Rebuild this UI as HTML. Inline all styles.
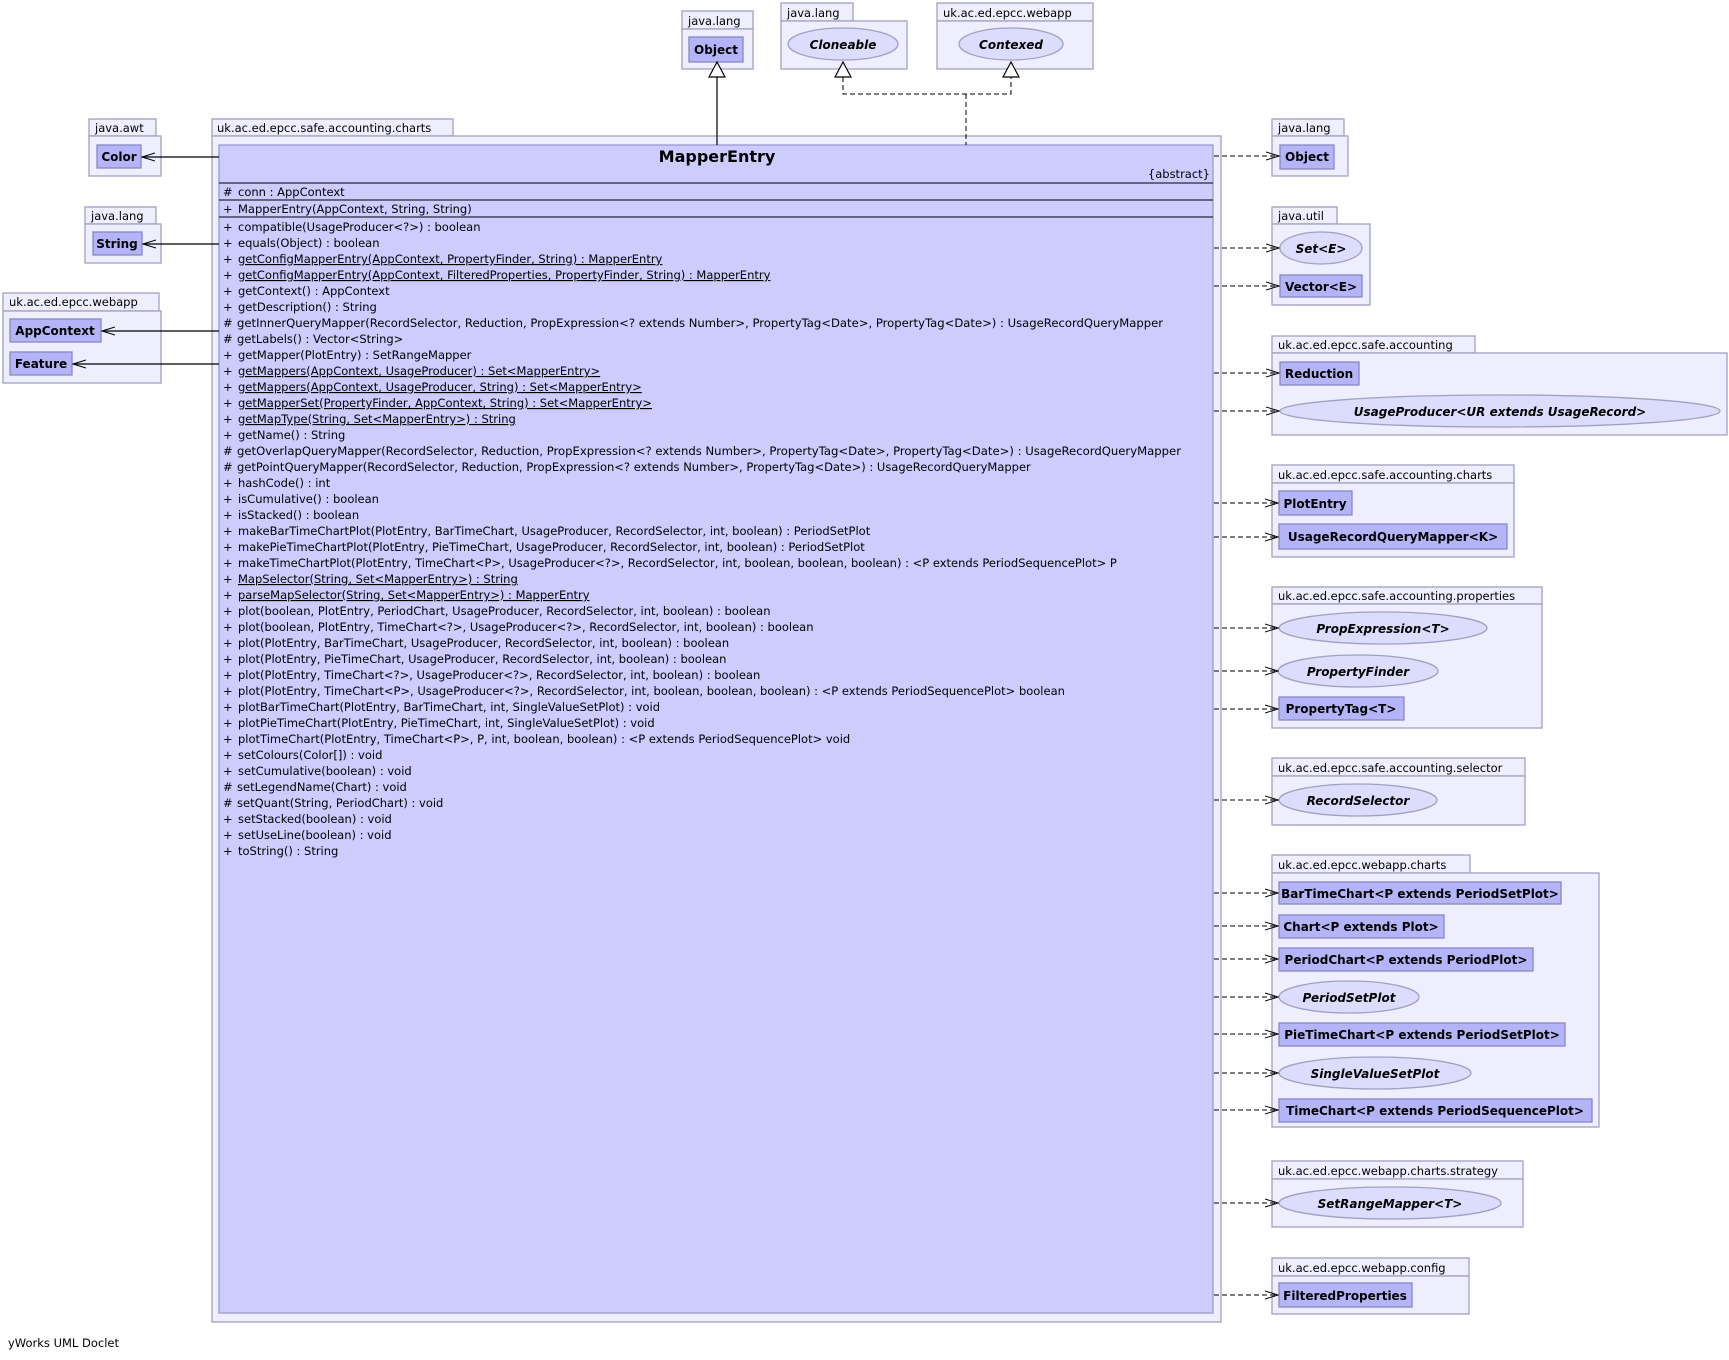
<!DOCTYPE html>
<html><head><meta charset="utf-8"><style>
html,body{margin:0;padding:0;background:#fff;}
svg{display:block;}
.pk{fill:#eeeeff;stroke:#a0a0c0;stroke-width:1.3;}
.cl{fill:#b4b4f8;stroke:#8888c0;stroke-width:1.3;}
.el{fill:#dcdcfc;stroke:#a0a0c0;stroke-width:1.3;}
.pt{font-family:"DejaVu Sans",sans-serif;font-size:11.5px;fill:#000;}
.bn{font-family:"DejaVu Sans",sans-serif;font-size:12px;font-weight:bold;fill:#000;}
.it{font-family:"DejaVu Sans",sans-serif;font-size:12px;font-weight:bold;font-style:italic;fill:#000;}
.m{font-family:"DejaVu Sans",sans-serif;font-size:11.5px;fill:#000;}
.u{text-decoration:underline;}
.dep{stroke:#000;stroke-width:1;stroke-dasharray:5,3;fill:none;}
.sol{stroke:#000;stroke-width:1.2;fill:none;}
</style></head><body>
<svg width="1729" height="1360" viewBox="0 0 1729 1360" xmlns="http://www.w3.org/2000/svg">
<defs>
<marker id="oa" markerWidth="14" markerHeight="10" refX="13" refY="5" orient="auto" markerUnits="userSpaceOnUse">
<path d="M0,1 L13,5 L0,9" fill="none" stroke="#000" stroke-width="1"/></marker>
</defs>

<rect class="pk" x="212" y="119" width="241" height="17"/>
<text class="pt" x="217" y="132">uk.ac.ed.epcc.safe.accounting.charts</text>
<rect class="pk" x="212" y="136" width="1009" height="1186"/>
<rect x="219" y="145" width="994" height="1168" fill="#ccccff" stroke="#9999cc" stroke-width="1.3"/>
<text x="717" y="162" text-anchor="middle" style="font-family:'DejaVu Sans',sans-serif;font-size:16px;font-weight:600;fill:#000">MapperEntry</text>
<text class="m" x="1210" y="178" text-anchor="end">{abstract}</text>
<line x1="219" y1="183" x2="1213" y2="183" stroke="#000"/>
<line x1="219" y1="200" x2="1213" y2="200" stroke="#000"/>
<line x1="219" y1="217" x2="1213" y2="217" stroke="#000"/>
<text class="m" x="223" y="196">#</text><text class="m" x="238" y="196">conn : AppContext</text>
<text class="m" x="223" y="213">+</text><text class="m" x="238" y="213">MapperEntry(AppContext, String, String)</text>

<g class="m">
<text x="223" y="231">+</text><text x="238" y="231">compatible(UsageProducer&lt;?&gt;) : boolean</text>
<text x="223" y="247">+</text><text x="238" y="247">equals(Object) : boolean</text>
<text x="223" y="263">+</text><text x="238" y="263" class="u">getConfigMapperEntry(AppContext, PropertyFinder, String) : MapperEntry</text>
<text x="223" y="279">+</text><text x="238" y="279" class="u">getConfigMapperEntry(AppContext, FilteredProperties, PropertyFinder, String) : MapperEntry</text>
<text x="223" y="295">+</text><text x="238" y="295">getContext() : AppContext</text>
<text x="223" y="311">+</text><text x="238" y="311">getDescription() : String</text>
<text x="223" y="327">#</text><text x="237" y="327" textLength="926" lengthAdjust="spacingAndGlyphs">getInnerQueryMapper(RecordSelector, Reduction, PropExpression&lt;? extends Number&gt;, PropertyTag&lt;Date&gt;, PropertyTag&lt;Date&gt;) : UsageRecordQueryMapper</text>
<text x="223" y="343">#</text><text x="237" y="343">getLabels() : Vector&lt;String&gt;</text>
<text x="223" y="359">+</text><text x="238" y="359">getMapper(PlotEntry) : SetRangeMapper</text>
<text x="223" y="375">+</text><text x="238" y="375" class="u">getMappers(AppContext, UsageProducer) : Set&lt;MapperEntry&gt;</text>
<text x="223" y="391">+</text><text x="238" y="391" class="u">getMappers(AppContext, UsageProducer, String) : Set&lt;MapperEntry&gt;</text>
<text x="223" y="407">+</text><text x="238" y="407" class="u">getMapperSet(PropertyFinder, AppContext, String) : Set&lt;MapperEntry&gt;</text>
<text x="223" y="423">+</text><text x="238" y="423" class="u">getMapType(String, Set&lt;MapperEntry&gt;) : String</text>
<text x="223" y="439">+</text><text x="238" y="439">getName() : String</text>
<text x="223" y="455">#</text><text x="237" y="455" textLength="944" lengthAdjust="spacingAndGlyphs">getOverlapQueryMapper(RecordSelector, Reduction, PropExpression&lt;? extends Number&gt;, PropertyTag&lt;Date&gt;, PropertyTag&lt;Date&gt;) : UsageRecordQueryMapper</text>
<text x="223" y="471">#</text><text x="237" y="471">getPointQueryMapper(RecordSelector, Reduction, PropExpression&lt;? extends Number&gt;, PropertyTag&lt;Date&gt;) : UsageRecordQueryMapper</text>
<text x="223" y="487">+</text><text x="238" y="487">hashCode() : int</text>
<text x="223" y="503">+</text><text x="238" y="503">isCumulative() : boolean</text>
<text x="223" y="519">+</text><text x="238" y="519">isStacked() : boolean</text>
<text x="223" y="535">+</text><text x="238" y="535">makeBarTimeChartPlot(PlotEntry, BarTimeChart, UsageProducer, RecordSelector, int, boolean) : PeriodSetPlot</text>
<text x="223" y="551">+</text><text x="238" y="551">makePieTimeChartPlot(PlotEntry, PieTimeChart, UsageProducer, RecordSelector, int, boolean) : PeriodSetPlot</text>
<text x="223" y="567">+</text><text x="238" y="567">makeTimeChartPlot(PlotEntry, TimeChart&lt;P&gt;, UsageProducer&lt;?&gt;, RecordSelector, int, boolean, boolean, boolean) :  &lt;P extends PeriodSequencePlot&gt; P</text>
<text x="223" y="583">+</text><text x="238" y="583" class="u">MapSelector(String, Set&lt;MapperEntry&gt;) : String</text>
<text x="223" y="599">+</text><text x="238" y="599" class="u">parseMapSelector(String, Set&lt;MapperEntry&gt;) : MapperEntry</text>
<text x="223" y="615">+</text><text x="238" y="615">plot(boolean, PlotEntry, PeriodChart, UsageProducer, RecordSelector, int, boolean) : boolean</text>
<text x="223" y="631">+</text><text x="238" y="631">plot(boolean, PlotEntry, TimeChart&lt;?&gt;, UsageProducer&lt;?&gt;, RecordSelector, int, boolean) : boolean</text>
<text x="223" y="647">+</text><text x="238" y="647">plot(PlotEntry, BarTimeChart, UsageProducer, RecordSelector, int, boolean) : boolean</text>
<text x="223" y="663">+</text><text x="238" y="663">plot(PlotEntry, PieTimeChart, UsageProducer, RecordSelector, int, boolean) : boolean</text>
<text x="223" y="679">+</text><text x="238" y="679">plot(PlotEntry, TimeChart&lt;?&gt;, UsageProducer&lt;?&gt;, RecordSelector, int, boolean) : boolean</text>
<text x="223" y="695">+</text><text x="238" y="695">plot(PlotEntry, TimeChart&lt;P&gt;, UsageProducer&lt;?&gt;, RecordSelector, int, boolean, boolean, boolean) :  &lt;P extends PeriodSequencePlot&gt; boolean</text>
<text x="223" y="711">+</text><text x="238" y="711">plotBarTimeChart(PlotEntry, BarTimeChart, int, SingleValueSetPlot) : void</text>
<text x="223" y="727">+</text><text x="238" y="727">plotPieTimeChart(PlotEntry, PieTimeChart, int, SingleValueSetPlot) : void</text>
<text x="223" y="743">+</text><text x="238" y="743">plotTimeChart(PlotEntry, TimeChart&lt;P&gt;, P, int, boolean, boolean) :  &lt;P extends PeriodSequencePlot&gt; void</text>
<text x="223" y="759">+</text><text x="238" y="759">setColours(Color[]) : void</text>
<text x="223" y="775">+</text><text x="238" y="775">setCumulative(boolean) : void</text>
<text x="223" y="791">#</text><text x="237" y="791">setLegendName(Chart) : void</text>
<text x="223" y="807">#</text><text x="237" y="807">setQuant(String, PeriodChart) : void</text>
<text x="223" y="823">+</text><text x="238" y="823">setStacked(boolean) : void</text>
<text x="223" y="839">+</text><text x="238" y="839">setUseLine(boolean) : void</text>
<text x="223" y="855">+</text><text x="238" y="855">toString() : String</text>
</g>

<rect class="pk" x="682" y="11" width="71" height="18"/><text class="pt" x="688" y="25">java.lang</text>
<rect class="pk" x="682" y="29" width="71" height="40"/>
<rect class="cl" x="689" y="37" width="54" height="25"/><text class="bn" x="716" y="54" text-anchor="middle">Object</text>

<rect class="pk" x="781" y="3" width="72" height="18"/><text class="pt" x="787" y="17">java.lang</text>
<rect class="pk" x="781" y="21" width="126" height="48"/>
<ellipse class="el" cx="843" cy="44" rx="55" ry="16"/><text class="it" x="843" y="49" text-anchor="middle">Cloneable</text>

<rect class="pk" x="937" y="3" width="156" height="18"/><text class="pt" x="943" y="17">uk.ac.ed.epcc.webapp</text>
<rect class="pk" x="937" y="21" width="156" height="48"/>
<ellipse class="el" cx="1011" cy="44" rx="52" ry="16"/><text class="it" x="1011" y="49" text-anchor="middle">Contexed</text>

<line class="sol" x1="717" y1="77" x2="717" y2="145"/>
<path d="M717,62 L709,77 L725,77 Z" fill="#fff" stroke="#000" stroke-width="1.2"/>
<path class="dep" d="M843,77 L843,94 L1011,94 L1011,77"/>
<line class="dep" x1="966" y1="94" x2="966" y2="145"/>
<path d="M843,62 L835,77 L851,77 Z" fill="#fff" stroke="#000" stroke-width="1.2"/>
<path d="M1011,62 L1003,77 L1019,77 Z" fill="#fff" stroke="#000" stroke-width="1.2"/>

<rect class="pk" x="89" y="119" width="67" height="17"/><text class="pt" x="95" y="132">java.awt</text>
<rect class="pk" x="89" y="136" width="72" height="40"/>
<rect class="cl" x="97" y="145" width="44" height="23"/><text class="bn" x="119" y="161" text-anchor="middle">Color</text>
<line class="sol" x1="219" y1="157" x2="142" y2="157" marker-end="url(#oa)"/>

<rect class="pk" x="85" y="207" width="71" height="17"/><text class="pt" x="91" y="220">java.lang</text>
<rect class="pk" x="85" y="224" width="76" height="39"/>
<rect class="cl" x="93" y="232" width="49" height="23"/><text class="bn" x="117" y="248" text-anchor="middle">String</text>
<line class="sol" x1="219" y1="244" x2="143" y2="244" marker-end="url(#oa)"/>

<rect class="pk" x="3" y="293" width="156" height="18"/><text class="pt" x="9" y="306">uk.ac.ed.epcc.webapp</text>
<rect class="pk" x="3" y="311" width="158" height="72"/>
<rect class="cl" x="10" y="319" width="91" height="23"/><text class="bn" x="55" y="335" text-anchor="middle">AppContext</text>
<line class="sol" x1="219" y1="331" x2="102" y2="331" marker-end="url(#oa)"/>
<rect class="cl" x="10" y="352" width="62" height="23"/><text class="bn" x="41" y="368" text-anchor="middle">Feature</text>
<line class="sol" x1="219" y1="364" x2="73" y2="364" marker-end="url(#oa)"/>

<rect class="pk" x="1272" y="119" width="72" height="17"/><text class="pt" x="1278" y="132">java.lang</text>
<rect class="pk" x="1272" y="136" width="76" height="40"/>
<rect class="cl" x="1280" y="145" width="54" height="24"/><text class="bn" x="1307" y="161" text-anchor="middle">Object</text>
<line class="dep" x1="1214" y1="156" x2="1279" y2="156" marker-end="url(#oa)"/>

<rect class="pk" x="1272" y="207" width="65" height="17"/><text class="pt" x="1278" y="220">java.util</text>
<rect class="pk" x="1272" y="224" width="98" height="81"/>
<ellipse class="el" cx="1321" cy="248" rx="41" ry="16"/><text class="it" x="1321" y="253" text-anchor="middle">Set&lt;E&gt;</text>
<line class="dep" x1="1214" y1="248" x2="1279" y2="248" marker-end="url(#oa)"/>
<rect class="cl" x="1280" y="275" width="82" height="22"/><text class="bn" x="1321" y="291" text-anchor="middle">Vector&lt;E&gt;</text>
<line class="dep" x1="1214" y1="286" x2="1279" y2="286" marker-end="url(#oa)"/>

<rect class="pk" x="1272" y="336" width="203" height="17"/><text class="pt" x="1278" y="349">uk.ac.ed.epcc.safe.accounting</text>
<rect class="pk" x="1272" y="353" width="455" height="82"/>
<rect class="cl" x="1280" y="362" width="79" height="23"/><text class="bn" x="1319" y="378" text-anchor="middle">Reduction</text>
<line class="dep" x1="1214" y1="373" x2="1279" y2="373" marker-end="url(#oa)"/>
<ellipse class="el" cx="1500" cy="411" rx="220" ry="16"/><text class="it" x="1500" y="416" text-anchor="middle">UsageProducer&lt;UR extends UsageRecord&gt;</text>
<line class="dep" x1="1214" y1="411" x2="1279" y2="411" marker-end="url(#oa)"/>

<rect class="pk" x="1272" y="465" width="242" height="18"/><text class="pt" x="1278" y="479">uk.ac.ed.epcc.safe.accounting.charts</text>
<rect class="pk" x="1272" y="483" width="242" height="74"/>
<rect class="cl" x="1279" y="491" width="73" height="24"/><text class="bn" x="1315" y="508" text-anchor="middle">PlotEntry</text>
<line class="dep" x1="1214" y1="503" x2="1278" y2="503" marker-end="url(#oa)"/>
<rect class="cl" x="1279" y="524" width="228" height="25"/><text class="bn" x="1393" y="541" text-anchor="middle">UsageRecordQueryMapper&lt;K&gt;</text>
<line class="dep" x1="1214" y1="537" x2="1278" y2="537" marker-end="url(#oa)"/>

<rect class="pk" x="1272" y="587" width="270" height="17"/><text class="pt" x="1278" y="600">uk.ac.ed.epcc.safe.accounting.properties</text>
<rect class="pk" x="1272" y="604" width="270" height="124"/>
<ellipse class="el" cx="1383" cy="628" rx="104" ry="16"/><text class="it" x="1383" y="633" text-anchor="middle">PropExpression&lt;T&gt;</text>
<line class="dep" x1="1214" y1="628" x2="1278" y2="628" marker-end="url(#oa)"/>
<ellipse class="el" cx="1358" cy="671" rx="80" ry="16"/><text class="it" x="1358" y="676" text-anchor="middle">PropertyFinder</text>
<line class="dep" x1="1214" y1="671" x2="1278" y2="671" marker-end="url(#oa)"/>
<rect class="cl" x="1279" y="697" width="125" height="23"/><text class="bn" x="1341" y="713" text-anchor="middle">PropertyTag&lt;T&gt;</text>
<line class="dep" x1="1214" y1="709" x2="1278" y2="709" marker-end="url(#oa)"/>

<rect class="pk" x="1272" y="758" width="253" height="18"/><text class="pt" x="1278" y="772">uk.ac.ed.epcc.safe.accounting.selector</text>
<rect class="pk" x="1272" y="776" width="253" height="49"/>
<ellipse class="el" cx="1358" cy="800" rx="79" ry="16"/><text class="it" x="1358" y="805" text-anchor="middle">RecordSelector</text>
<line class="dep" x1="1214" y1="800" x2="1278" y2="800" marker-end="url(#oa)"/>

<rect class="pk" x="1272" y="855" width="198" height="18"/><text class="pt" x="1278" y="869">uk.ac.ed.epcc.webapp.charts</text>
<rect class="pk" x="1272" y="873" width="327" height="254"/>
<rect class="cl" x="1279" y="882" width="282" height="22"/><text class="bn" x="1420" y="898" text-anchor="middle">BarTimeChart&lt;P extends PeriodSetPlot&gt;</text>
<line class="dep" x1="1214" y1="893" x2="1278" y2="893" marker-end="url(#oa)"/>
<rect class="cl" x="1279" y="915" width="165" height="23"/><text class="bn" x="1361" y="931" text-anchor="middle">Chart&lt;P extends Plot&gt;</text>
<line class="dep" x1="1214" y1="926" x2="1278" y2="926" marker-end="url(#oa)"/>
<rect class="cl" x="1279" y="948" width="254" height="23"/><text class="bn" x="1406" y="964" text-anchor="middle">PeriodChart&lt;P extends PeriodPlot&gt;</text>
<line class="dep" x1="1214" y1="959" x2="1278" y2="959" marker-end="url(#oa)"/>
<ellipse class="el" cx="1349" cy="997" rx="70" ry="16"/><text class="it" x="1349" y="1002" text-anchor="middle">PeriodSetPlot</text>
<line class="dep" x1="1214" y1="997" x2="1278" y2="997" marker-end="url(#oa)"/>
<rect class="cl" x="1279" y="1023" width="286" height="23"/><text class="bn" x="1422" y="1039" text-anchor="middle">PieTimeChart&lt;P extends PeriodSetPlot&gt;</text>
<line class="dep" x1="1214" y1="1034" x2="1278" y2="1034" marker-end="url(#oa)"/>
<ellipse class="el" cx="1375" cy="1073" rx="96" ry="16"/><text class="it" x="1375" y="1078" text-anchor="middle">SingleValueSetPlot</text>
<line class="dep" x1="1214" y1="1073" x2="1278" y2="1073" marker-end="url(#oa)"/>
<rect class="cl" x="1279" y="1099" width="313" height="23"/><text class="bn" x="1435" y="1115" text-anchor="middle">TimeChart&lt;P extends PeriodSequencePlot&gt;</text>
<line class="dep" x1="1214" y1="1110" x2="1278" y2="1110" marker-end="url(#oa)"/>

<rect class="pk" x="1272" y="1161" width="251" height="18"/><text class="pt" x="1278" y="1175">uk.ac.ed.epcc.webapp.charts.strategy</text>
<rect class="pk" x="1272" y="1179" width="251" height="48"/>
<ellipse class="el" cx="1390" cy="1203" rx="111" ry="16"/><text class="it" x="1390" y="1208" text-anchor="middle">SetRangeMapper&lt;T&gt;</text>
<line class="dep" x1="1214" y1="1203" x2="1278" y2="1203" marker-end="url(#oa)"/>

<rect class="pk" x="1272" y="1258" width="197" height="18"/><text class="pt" x="1278" y="1272">uk.ac.ed.epcc.webapp.config</text>
<rect class="pk" x="1272" y="1276" width="197" height="38"/>
<rect class="cl" x="1279" y="1283" width="133" height="24"/><text class="bn" x="1345" y="1300" text-anchor="middle">FilteredProperties</text>
<line class="dep" x1="1214" y1="1295" x2="1278" y2="1295" marker-end="url(#oa)"/>

<text class="pt" x="8" y="1347">yWorks UML Doclet</text>
</svg>
</body></html>
